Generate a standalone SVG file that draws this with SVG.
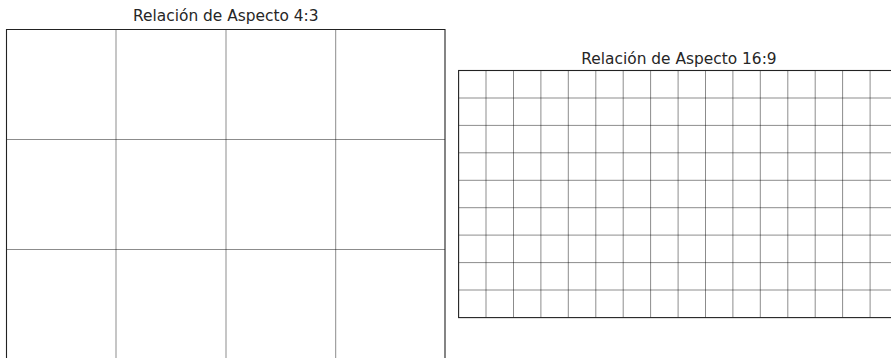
<svg xmlns="http://www.w3.org/2000/svg" width="891" height="358" viewBox="0 0 891 358">
<style>
.t{font-family:"DejaVu Sans",sans-serif;font-size:15.4px;fill:#262626;text-anchor:middle}
.g{stroke:#000;stroke-opacity:0.45;stroke-width:1;fill:none}
.f{stroke:#222;stroke-width:1.1;fill:none}
</style>
<rect width="891" height="358" fill="#fff"/>
<g id="panel43">
<text class="t" x="225.8" y="21">Relación de Aspecto 4:3</text>
<path class="g" d="M116,29.5V358M226,29.5V358M335.7,29.5V358M6.5,139.5H445M6.5,249.5H445"/>
<path class="f" d="M6.5,360V29.5H445V360"/>
</g>
<g id="panel169">
<text class="t" x="679" y="63.5">Relación de Aspecto 16:9</text>
<path class="g" d="M486,70.5V317.6M513.5,70.5V317.6M540.9,70.5V317.6M568.3,70.5V317.6M595.8,70.5V317.6M623.2,70.5V317.6M650.6,70.5V317.6M678.1,70.5V317.6M705.5,70.5V317.6M732.9,70.5V317.6M760.3,70.5V317.6M787.8,70.5V317.6M815.2,70.5V317.6M842.6,70.5V317.6M870.1,70.5V317.6M458.6,98H897M458.6,125.4H897M458.6,152.8H897M458.6,180.3H897M458.6,207.7H897M458.6,235.1H897M458.6,262.6H897M458.6,290H897"/>
<rect class="f" x="458.6" y="70.5" width="438.9" height="247.1"/>
</g>
</svg>
